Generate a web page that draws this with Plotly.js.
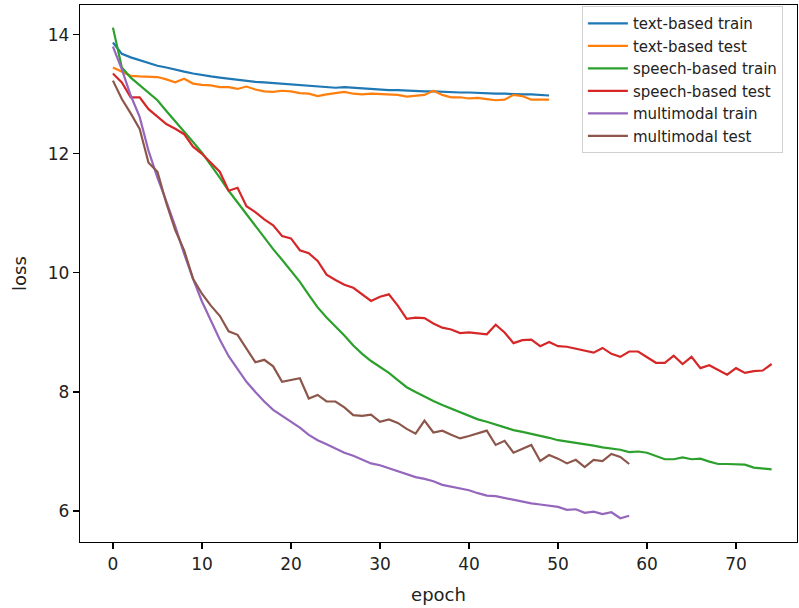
<!DOCTYPE html>
<html>
<head>
<meta charset="utf-8">
<script src="https://cdn.plot.ly/plotly-3.0.1.min.js"></script>
<style>html,body{margin:0;padding:0;background:#fff;}#chart{width:799px;height:608px;}</style>
</head>
<body>
<div id="chart"></div>
<script>
const seriesNames = ["text-based train", "text-based test", "speech-based train", "speech-based test", "multimodal train", "multimodal test"];
const seriesColors = ["#1f77b4", "#ff7f0e", "#2ca02c", "#d62728", "#9467bd", "#8c564b"];

const textTrain = [13.87, 13.68, 13.62, 13.57, 13.52, 13.48, 13.45, 13.41, 13.38, 13.35,
  13.32, 13.30, 13.28, 13.26, 13.24, 13.22, 13.21, 13.20, 13.19, 13.18,
  13.16, 13.15, 13.14, 13.14, 13.13, 13.11, 13.12, 13.11, 13.10, 13.09,
  13.07, 13.07, 13.07, 13.06, 13.06, 13.05, 13.05, 13.04, 13.04, 13.03,
  13.03, 13.02, 13.02, 13.01, 13.01, 13.00, 13.00, 13.00, 12.99, 12.98];

const textTest = [13.45, 13.38, 13.31, 13.30, 13.30, 13.29, 13.25, 13.20, 13.26, 13.18,
  13.16, 13.15, 13.12, 13.12, 13.09, 13.13, 13.08, 13.05, 13.04, 13.06,
  13.05, 13.02, 13.01, 12.97, 13.00, 13.02, 13.04, 13.01, 13.00, 13.01,
  13.00, 12.99, 12.99, 12.96, 12.97, 12.99, 13.06, 12.99, 12.95, 12.95,
  12.93, 12.94, 12.92, 12.90, 12.91, 12.99, 12.97, 12.91, 12.91, 12.91];

const speechTrain = [14.12, 13.45, 13.28, 13.15, 13.02, 12.90, 12.72, 12.55, 12.38, 12.20,
  12.02, 11.82, 11.60, 11.38, 11.18, 10.98, 10.80, 10.60, 10.40, 10.22,
  10.03, 9.85, 9.63, 9.42, 9.25, 9.10, 8.95, 8.78, 8.64, 8.52,
  8.42, 8.32, 8.20, 8.08, 8.00, 7.92, 7.85, 7.78, 7.72, 7.66,
  7.60, 7.54, 7.50, 7.45, 7.40, 7.36, 7.33, 7.30, 7.27, 7.23,
  7.19, 7.17, 7.15, 7.13, 7.10, 7.07, 7.05, 7.03, 6.99, 7.00,
  6.98, 6.93, 6.87, 6.87, 6.90, 6.87, 6.88, 6.83, 6.79, 6.79,
  6.78, 6.78, 6.73, 6.71, 6.70];

const speechTest = [13.35, 13.20, 12.95, 12.95, 12.75, 12.62, 12.50, 12.42, 12.33, 12.12,
  12.00, 11.85, 11.70, 11.38, 11.43, 11.12, 11.02, 10.90, 10.80, 10.62,
  10.58, 10.38, 10.33, 10.20, 9.97, 9.88, 9.80, 9.75, 9.64, 9.53,
  9.60, 9.64, 9.45, 9.23, 9.25, 9.24, 9.15, 9.08, 9.05, 8.99,
  9.00, 8.98, 8.97, 9.13, 9.00, 8.82, 8.87, 8.88, 8.77, 8.84,
  8.77, 8.76, 8.73, 8.70, 8.66, 8.74, 8.64, 8.59, 8.68, 8.68,
  8.58, 8.49, 8.49, 8.61, 8.47, 8.59, 8.40, 8.45, 8.37, 8.29,
  8.40, 8.32, 8.35, 8.36, 8.47];

const multiTrain = [13.80, 13.42, 12.98, 12.62, 12.05, 11.60, 11.20, 10.78, 10.32, 9.90,
  9.52, 9.20, 8.88, 8.60, 8.38, 8.17, 8.00, 7.84, 7.70, 7.60,
  7.50, 7.40, 7.28, 7.19, 7.12, 7.05, 6.98, 6.93, 6.87, 6.80,
  6.77, 6.72, 6.67, 6.62, 6.57, 6.54, 6.50, 6.44, 6.41, 6.38,
  6.35, 6.30, 6.26, 6.25, 6.22, 6.18, 6.15, 6.13, 6.11, 6.09,
  6.07, 6.02, 6.03, 5.97, 5.99, 5.95, 5.98, 5.88, 5.92];

const multiTest = [13.23, 12.92, 12.68, 12.42, 11.85, 11.70, 11.17, 10.72, 10.38, 9.90,
  9.65, 9.45, 9.28, 9.02, 8.96, 8.73, 8.50, 8.54, 8.43, 8.17,
  8.20, 8.23, 7.89, 7.95, 7.84, 7.84, 7.74, 7.61, 7.60, 7.62,
  7.50, 7.54, 7.48, 7.38, 7.30, 7.52, 7.32, 7.35, 7.28, 7.22,
  7.26, 7.30, 7.35, 7.11, 7.18, 6.98, 7.05, 7.11, 6.84, 6.94,
  6.88, 6.80, 6.86, 6.74, 6.86, 6.84, 6.96, 6.91, 6.79];

const allSeries = [textTrain, textTest, speechTrain, speechTest, multiTrain, multiTest];

const traces = allSeries.map((vals, i) => ({
  type: "scatter",
  mode: "lines",
  name: seriesNames[i],
  x: vals.map((_, k) => k),
  y: vals,
  line: {color: seriesColors[i], width: 2.2}
}));

const font = "DejaVu Sans, sans-serif";
const layout = {
  width: 799,
  height: 608,
  margin: {l: 80, r: 2, t: 5, b: 66},
  paper_bgcolor: "#fff",
  plot_bgcolor: "#fff",
  showlegend: true,
  font: {family: font, color: "#222"},
  xaxis: {
    range: [-3.7, 76.85],
    tickvals: [0, 10, 20, 30, 40, 50, 60, 70],
    ticks: "outside", ticklen: 6, tickwidth: 1.2, tickcolor: "#000",
    showline: true, mirror: true, linecolor: "#000", linewidth: 1.3,
    showgrid: false, zeroline: false,
    tickfont: {family: font, size: 17, color: "#222"},
    title: {text: "epoch", font: {family: font, size: 18, color: "#222"}, standoff: 15}
  },
  yaxis: {
    range: [5.48, 14.5],
    tickvals: [6, 8, 10, 12, 14],
    ticks: "outside", ticklen: 6, tickwidth: 1.2, tickcolor: "#000",
    showline: true, mirror: true, linecolor: "#000", linewidth: 1.3,
    showgrid: false, zeroline: false,
    tickfont: {family: font, size: 17, color: "#222"},
    title: {text: "loss", font: {family: font, size: 18, color: "#222"}, standoff: 16}
  },
  legend: {
    x: 0.700, y: 0.998, xanchor: "left", yanchor: "top",
    bgcolor: "rgba(255,255,255,0.9)", bordercolor: "#d0d0d0", borderwidth: 1,
    font: {family: font, size: 15, color: "#222"},
    itemwidth: 40
  }
};

Plotly.newPlot("chart", traces, layout, {displayModeBar: false, staticPlot: true});
</script>
</body>
</html>
